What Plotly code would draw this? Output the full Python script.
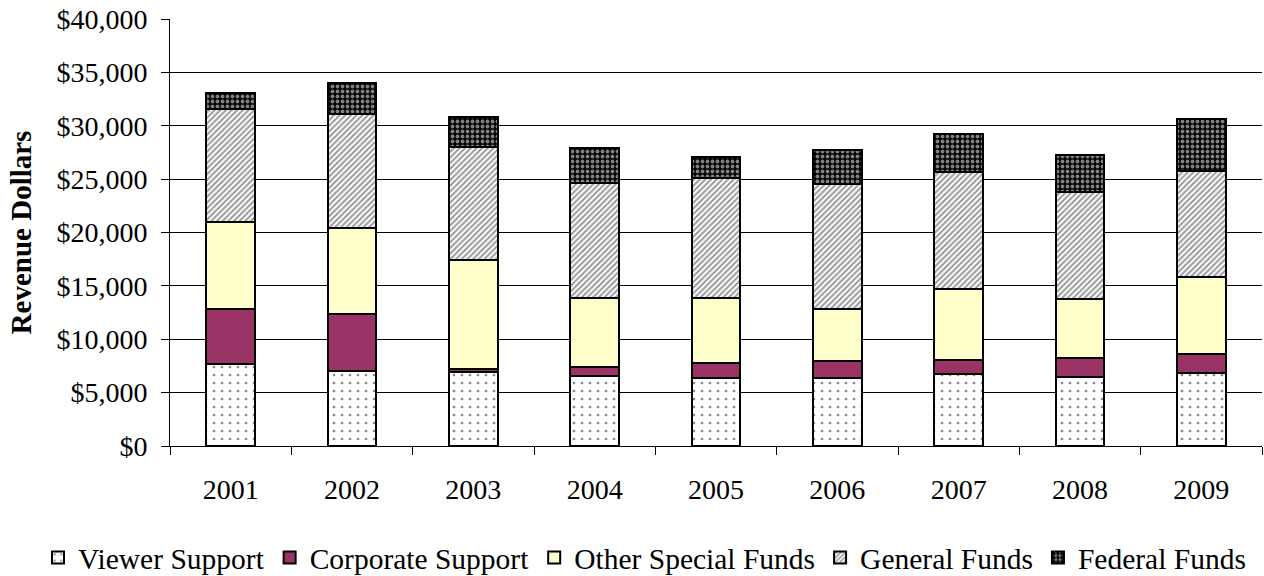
import plotly.graph_objects as go

years = ["2001", "2002", "2003", "2004", "2005", "2006", "2007", "2008", "2009"]
viewer_support = [7650, 7050, 6900, 6550, 6400, 6400, 6750, 6450, 6850]
corporate_support = [5150, 5300, 300, 850, 1400, 1600, 1350, 1800, 1750]
other_special_funds = [8200, 8050, 10200, 6500, 6100, 4800, 6600, 5500, 7250]
general_funds = [10550, 10700, 10600, 10700, 11200, 11700, 11000, 10050, 9950]
federal_funds = [1500, 2950, 2800, 3300, 2000, 3200, 3500, 3500, 4850]

font_family = "Liberation Serif, Times New Roman, serif"
line = dict(color="black", width=2)

fig = go.Figure()
fig.add_bar(name="Viewer Support", x=years, y=viewer_support,
            marker=dict(color="white", line=line,
                        pattern=dict(shape=".", fgcolor="#111111", bgcolor="white", size=8, solidity=0.09)))
fig.add_bar(name="Corporate Support", x=years, y=corporate_support,
            marker=dict(color="#993366", line=line))
fig.add_bar(name="Other Special Funds", x=years, y=other_special_funds,
            marker=dict(color="#FFFFCC", line=line))
fig.add_bar(name="General Funds", x=years, y=general_funds,
            marker=dict(color="white", line=line,
                        pattern=dict(shape="/", fgcolor="#333333", bgcolor="white", size=4, solidity=0.5)))
fig.add_bar(name="Federal Funds", x=years, y=federal_funds,
            marker=dict(color="black", line=line,
                        pattern=dict(shape=".", fgcolor="white", bgcolor="black", size=5, solidity=0.45)))

fig.update_layout(
    barmode="stack",
    bargap=0.6,
    width=1264, height=576,
    margin=dict(l=170, r=2, t=19, b=130, autoexpand=False),
    plot_bgcolor="white", paper_bgcolor="white",
    font=dict(family=font_family, size=28, color="black"),
    showlegend=True,
    legend=dict(orientation="h", x=-0.1209, xanchor="left",
                y=-0.262, yanchor="middle",
                font=dict(size=29.5), traceorder="normal", itemwidth=30),
    xaxis=dict(type="category", showline=True, linecolor="black", linewidth=1,
               ticks="outside", tickson="boundaries", ticklen=8, tickcolor="black",
               showgrid=False, tickfont=dict(size=28), ticklabelstandoff=18),
    yaxis=dict(range=[0, 40000], dtick=5000, tickprefix="$", tickformat=",d",
               showline=True, linecolor="black", linewidth=1,
               ticks="outside", ticklen=8, tickcolor="black",
               showgrid=True, gridcolor="black", gridwidth=1, zeroline=False,
               ticklabelstandoff=8, ticklabeloverflow="allow",
               title=dict(text="<b>Revenue Dollars</b>", font=dict(size=29), standoff=16),
               tickfont=dict(size=28)),
)

fig.write_html("out.html", config={"displayModeBar": False},
               post_script="document.body.style.margin='0px';")
